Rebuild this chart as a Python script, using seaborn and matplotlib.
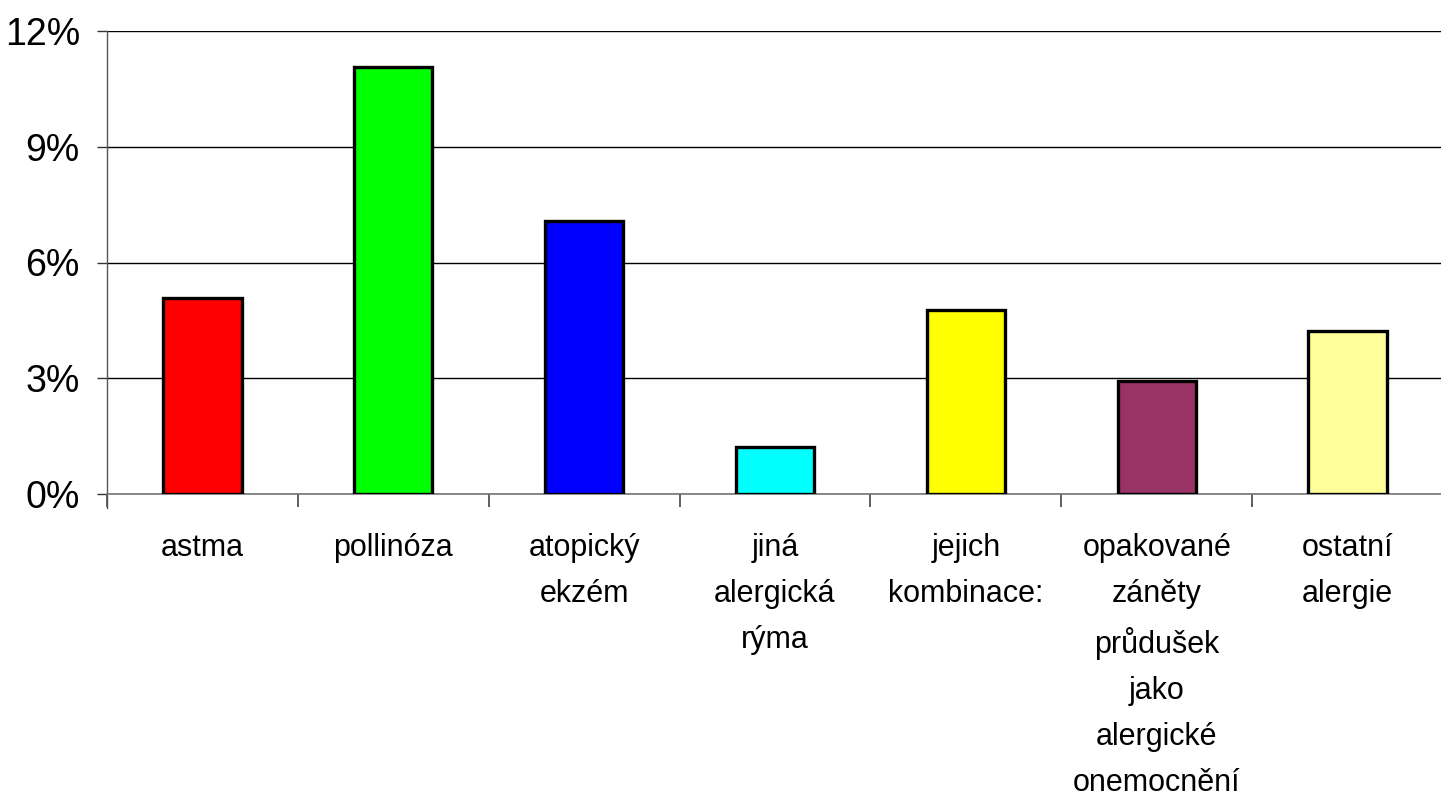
import matplotlib
matplotlib.use("Agg")
import matplotlib.pyplot as plt
import seaborn as sns
import pandas as pd
from matplotlib.ticker import FuncFormatter, FixedLocator

categories = ["astma", "pollinóza", "atopický\nekzém", "jiná\nalergická\nrýma",
              "jejich\nkombinace:", "opakované\nzáněty\nprůdušek\njako\nalergické\nonemocnění",
              "ostatní\nalergie"]
values = [5.07, 11.07, 7.08, 1.23, 4.77, 2.93, 4.22]
colors = ["#FF0000", "#00FF00", "#0000FF", "#00FFFF", "#FFFF00", "#993366", "#FFFF99"]
yticks = [0, 3, 6, 9, 12]

sns.set_theme(style="white")
plt.rcParams["font.family"] = ["Liberation Sans", "DejaVu Sans"]
plt.rcParams["text.color"] = "black"
plt.rcParams["xtick.color"] = "black"
plt.rcParams["ytick.color"] = "black"

fig = plt.figure(figsize=(14.41, 8.01), dpi=100)
ax = fig.add_axes([107/1441, 307/801, 1336/1441, 463/801])

df = pd.DataFrame({"cat": categories, "val": values})
sns.barplot(data=df, x="cat", y="val", hue="cat", palette=colors, legend=False,
            saturation=1, width=0.41, edgecolor="black", linewidth=2.4, ax=ax, zorder=3)

ax.set_ylim(0, 12)
ax.set_xlim(-0.5, 6.5)
ax.yaxis.set_major_locator(FixedLocator(yticks))
ax.yaxis.set_major_formatter(FuncFormatter(lambda v, p: f"{int(v)}%"))
ax.grid(axis="y", color="black", linewidth=1.0, zorder=0)
ax.grid(axis="x", visible=False)
ax.set_axisbelow(True)

ax.set_xlabel("")
ax.set_ylabel("")
for s in ["top", "right"]:
    ax.spines[s].set_visible(False)
ax.spines["left"].set_color("#555555")
ax.spines["left"].set_linewidth(1.0)
ax.spines["left"].set_bounds(-0.35, 12)
ax.spines["bottom"].set_color("#777777")
ax.spines["bottom"].set_linewidth(1.2)

ax.tick_params(axis="y", which="major", length=7.5, width=1, color="#333333",
               labelsize=27, pad=12, left=True, direction="out", labelcolor="black")
ax.set_xticks(range(len(categories)))
ax.set_xticklabels(categories, fontsize=22, linespacing=1.7, va="top", ha="center",
                   color="black")
ax.tick_params(axis="x", which="major", length=0, pad=28)
ax.set_xticks([i - 0.5 for i in range(len(categories) + 1)], minor=True)
ax.tick_params(axis="x", which="minor", length=9, width=1.2, color="#444444",
               bottom=True, direction="out")

fig.savefig("out.png", dpi=100, facecolor="white")
